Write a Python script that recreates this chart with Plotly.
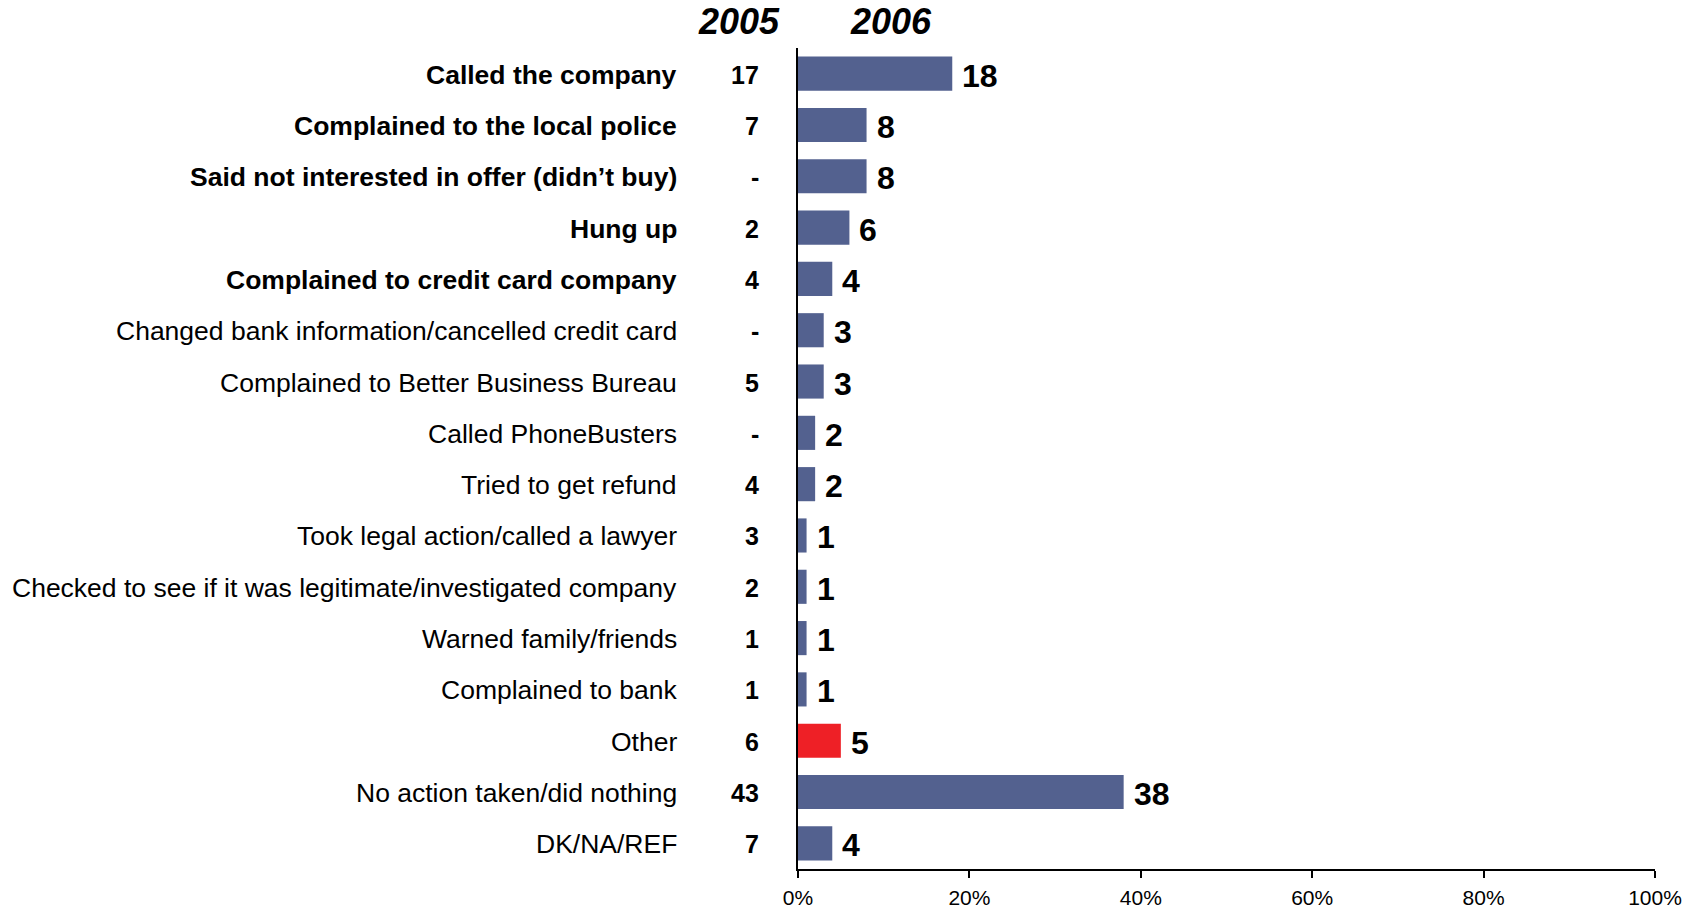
import plotly.graph_objects as go

# Actions taken after the call, most frequent first
actions = [
    "Called the company",
    "Complained to the local police",
    "Said not interested in offer (didn’t buy)",
    "Hung up",
    "Complained to credit card company",
    "Changed bank information/cancelled credit card",
    "Complained to Better Business Bureau",
    "Called PhoneBusters",
    "Tried to get refund",
    "Took legal action/called a lawyer",
    "Checked to see if it was legitimate/investigated company",
    "Warned family/friends",
    "Complained to bank",
    "Other",
    "No action taken/did nothing",
    "DK/NA/REF",
]
bold_rows = [True, True, True, True, True] + [False] * 11
pct_2006 = [18, 8, 8, 6, 4, 3, 3, 2, 2, 1, 1, 1, 1, 5, 38, 4]
pct_2005 = ["17", "7", "-", "2", "4", "-", "5", "-", "4", "3", "2", "1", "1", "6", "43", "7"]
x_ticks = [0, 20, 40, 60, 80, 100]
x_tick_labels = ["0%", "20%", "40%", "60%", "80%", "100%"]
year_headers = ["2005", "2006"]

BLUE = "#53618F"
RED = "#EE2026"
FONT = "Liberation Sans, Arial, sans-serif"

colors = [RED if a == "Other" else BLUE for a in actions]

fig = go.Figure(
    go.Bar(
        x=pct_2006,
        y=actions,
        orientation="h",
        marker=dict(color=colors, line=dict(width=0)),
        hoverinfo="skip",
    )
)

annotations = []
for name, bold, v06, v05 in zip(actions, bold_rows, pct_2006, pct_2005):
    # category label, left of the 2005 column
    annotations.append(dict(
        x=0, y=name, xref="x", yref="y",
        text=f"<b>{name}</b>" if bold else name,
        xanchor="right", yanchor="middle", xshift=-119, yshift=-1,
        showarrow=False,
        font=dict(family=FONT, size=26.5, color="black"),
    ))
    # 2005 value
    annotations.append(dict(
        x=0, y=name, xref="x", yref="y",
        text=f"<b>{v05}</b>",
        xanchor="right", yanchor="middle", xshift=-37, yshift=-1,
        showarrow=False,
        font=dict(family=FONT, size=25, color="black"),
    ))
    # 2006 value at the end of the bar
    annotations.append(dict(
        x=v06, y=name, xref="x", yref="y",
        text=f"<b>{v06}</b>",
        xanchor="left", yanchor="middle", xshift=8, yshift=-2,
        showarrow=False,
        font=dict(family=FONT, size=32, color="black"),
    ))

# year headers above the two columns
for label, shift in zip(year_headers, [-59, 93]):
    annotations.append(dict(
        x=0, y=1, xref="x", yref="paper",
        text=f"<b><i>{label}</i></b>",
        xanchor="center", yanchor="bottom", xshift=shift, yshift=4,
        showarrow=False,
        font=dict(family=FONT, size=36, color="black"),
    ))

fig.update_layout(
    width=1692, height=909,
    margin=dict(l=798, r=37, t=48, b=40),
    plot_bgcolor="white", paper_bgcolor="white",
    bargap=0.335,
    showlegend=False,
    annotations=annotations,
    xaxis=dict(
        range=[0, 100],
        tickvals=x_ticks, ticktext=x_tick_labels,
        ticks="outside", ticklen=7, tickwidth=1.5, tickcolor="black",
        showline=True, linecolor="black", linewidth=2,
        showgrid=False, zeroline=False,
        ticklabelstandoff=2,
        tickfont=dict(family=FONT, size=21, color="black"),
        automargin=False,
        fixedrange=True,
    ),
    yaxis=dict(
        categoryorder="array", categoryarray=actions,
        autorange="reversed",
        showticklabels=False, ticks="",
        showline=True, linecolor="black", linewidth=1.5,
        showgrid=False, zeroline=False,
        automargin=False,
        fixedrange=True,
    ),
)

fig.write_html("out.html")
